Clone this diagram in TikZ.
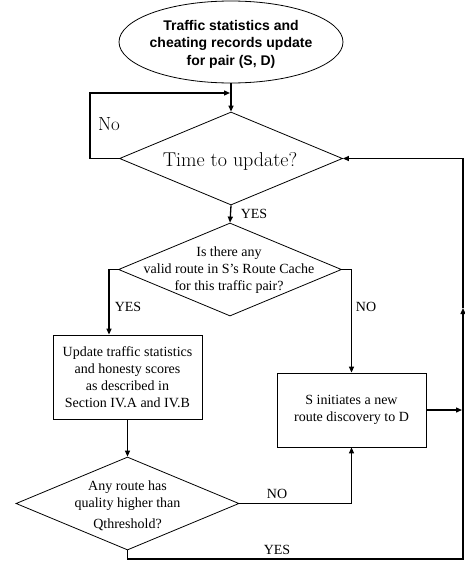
\documentclass[tikz,border=0pt]{standalone}
\usepackage{fontspec}
\newfontfamily\tnr{Liberation Serif}
\newfontfamily\arl{Liberation Sans}
\usetikzlibrary{shapes.geometric,arrows.meta}
\tikzset{
 shp/.style={draw, line width=0.8pt, inner sep=0pt},
 dia/.style={shp, diamond, minimum width=223, minimum height=93},
 boxn/.style={shp, rectangle, minimum width=149, align=center, font=\tnr\fontsize{14}{17}\selectfont},
 conn/.style={line width=1.3pt},
 arr/.style={conn, -{Triangle[length=6pt,width=5pt]}},
 lbl/.style={font=\tnr\fontsize{14}{17}\selectfont, inner sep=0pt, align=center},
}
\begin{document}
\begin{tikzpicture}[x=1pt,y=-1pt]
\useasboundingbox (0,0) rectangle (464,562);
% shapes
\node[shp, ellipse, minimum width=224, minimum height=82] (e) at (231,42) {};
\node[font=\arl\bfseries\fontsize{14}{17.5}\selectfont, align=center, inner sep=0pt] (et) at (231,44) {Traffic statistics and\\cheating records update\\for pair (S, D)};
\node[dia] (d1) at (231,158.5) {};
\node[font=\fontsize{20}{24}\selectfont, inner sep=0pt] (d1t) at (230,161) {Time to update?};
\node[dia] (d2) at (230,269.5) {};
\node[lbl] (d2t) at (229,270) {Is there any\\valid route in S’s Route Cache\\for this traffic pair?};
\node[boxn, minimum height=84] (b1) at (127.5,377) {Update traffic statistics\\and honesty scores\\as described in\\Section IV.A and IV.B};
\node[boxn, minimum height=74] (b2) at (351.5,410) {S initiates a new\\route discovery to D};
\node[dia] (d3) at (127.5,503.5) {};
\node[lbl] (d3t) at (127.5,506) {Any route has\\quality higher than\\[4pt]Qthreshold?};
% coordinates
\coordinate (l1) at (90,158.5);
\coordinate (l2) at (90,93);
\coordinate (l3) at (230,93);
\coordinate (c2) at (109,269.5);
\coordinate (c3) at (351.5,269.5);
\coordinate (c4) at (351.5,503.5);
\coordinate (r1) at (127.5,559);
\coordinate (r2) at (463,559);
\coordinate (r3) at (463,308);
\coordinate (r4) at (463,158.5);
\coordinate (r5) at (462,410);
% connectors
\draw[arr] (e.south) -- (d1.north);
\draw[arr] (d1.west) -- (l1) -- (l2) -- (l3);
\draw[arr] (d1.south) -- (d2.north);
\draw[arr] (d2.west) -- (c2) -- (c2 |- b1.north);
\draw[arr] (d2.east) -- (c3) -- (b2.north);
\draw[arr] (b1.south) -- (d3.north);
\draw[arr] (d3.east) -- (c4) -- (b2.south);
\draw[arr] (d3.south) -- (r1) -- (r2) -- (r3);
\draw[arr] (r3) -- (r4) -- (d1.east);
\draw[arr] (b2.east) -- (r5);
% labels
\node[font=\fontsize{19}{22}\selectfont, inner sep=0pt] (no1) at (109,124) {No};
\node[lbl] (y1) at (254,214) {YES};
\node[lbl] (y2) at (128,307) {YES};
\node[lbl] (n2) at (366,307) {NO};
\node[lbl] (n3) at (277,494) {NO};
\node[lbl] (y3) at (277,550) {YES};
\end{tikzpicture}
\end{document}
